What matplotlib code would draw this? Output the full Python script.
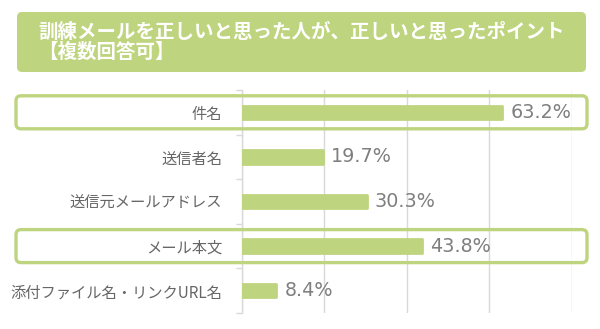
import matplotlib
matplotlib.use("Agg")
import matplotlib.pyplot as plt
from matplotlib.patches import FancyBboxPatch
from matplotlib.transforms import IdentityTransform

plt.rcParams['font.family'] = ['Noto Sans CJK JP', 'DejaVu Sans']

title_line1 = "訓練メールを正しいと思った人が、正しいと思ったポイント"
title_line2 = "【複数回答可】"
categories = ["件名", "送信者名", "送信元メールアドレス", "メール本文", "添付ファイル名・リンクURL名"]
values = [63.2, 19.7, 30.3, 43.8, 8.4]
highlighted = ["件名", "メール本文"]
x_ticks = [0, 20, 40, 60, 80]

GREEN = "#bed47e"
W, H = 600, 329
DPI = 100

fig = plt.figure(figsize=(W / DPI, H / DPI), dpi=DPI)
fig.patch.set_facecolor("white")

def px(x0, y0, x1, y1):
    return dict(x=x0, y=H - y1, w=x1 - x0, h=y1 - y0)

# Title box
tb = px(17, 12, 586, 72)
fig.patches.append(FancyBboxPatch((tb['x'] + 4, tb['y'] + 4), tb['w'] - 8, tb['h'] - 8,
                                  boxstyle="round,pad=4,rounding_size=5",
                                  transform=IdentityTransform(), facecolor=GREEN,
                                  edgecolor="none", zorder=0))
fig.text(38 / W, 1 - 32 / H, title_line1, color="white", fontsize=14, fontweight="bold",
         va="center", ha="left")
fig.text(38 / W, 1 - 52 / H, title_line2, color="white", fontsize=14, fontweight="bold",
         va="center", ha="left")

# Axes
ax_left, ax_right, ax_top, ax_bottom = 241.7, 571.7, 90, 313
ax = fig.add_axes([ax_left / W, 1 - ax_bottom / H, (ax_right - ax_left) / W, (ax_bottom - ax_top) / H])
ax.set_facecolor("none")
n = len(categories)
ypos = list(range(n))
ax.barh(ypos, values, height=0.30, color=GREEN, edgecolor=GREEN, linewidth=2.0,
        joinstyle="round", zorder=3)
ax.set_xlim(x_ticks[0], x_ticks[-1])
ax.set_ylim(n - 0.5, -0.5)
ax.set_xticks(x_ticks)
ax.set_xticklabels([])
ax.tick_params(axis='x', length=0)
ax.grid(axis='x', color="#d9d9d9", linewidth=1.0, zorder=0)
ax.set_yticks(ypos)
ax.set_yticklabels(categories, fontsize=11, color="#666666")
ax.tick_params(axis='y', which='major', length=0, pad=14)
ax.set_yticks([i - 0.5 for i in range(n + 1)], minor=True)
ax.tick_params(axis='y', which='minor', length=4, color="#d9d9d9", width=1)
for s in ["top", "right", "bottom"]:
    ax.spines[s].set_visible(False)
ax.spines["left"].set_color("#d9d9d9")
ax.spines["left"].set_linewidth(1.0)

for y, v in zip(ypos, values):
    ax.annotate(f"{v:.1f}%", xy=(v, y), xytext=(8, 0), textcoords="offset pixels",
                va="center", ha="left", fontsize=13.8, color="#7f7f7f",
                family=["DejaVu Sans"], zorder=4, annotation_clip=False)

# Highlight boxes
fig.canvas.draw()
for cat in highlighted:
    i = categories.index(cat)
    _, yc = ax.transData.transform((0, i))
    hh = 16.5
    fig.patches.append(FancyBboxPatch((16 + 3, yc - hh + 3), (587 - 16) - 6, 2 * hh - 6,
                                      boxstyle="round,pad=3,rounding_size=5",
                                      transform=IdentityTransform(), facecolor="none",
                                      edgecolor=GREEN, linewidth=2.4, zorder=5))

fig.savefig("out.png", dpi=DPI)
